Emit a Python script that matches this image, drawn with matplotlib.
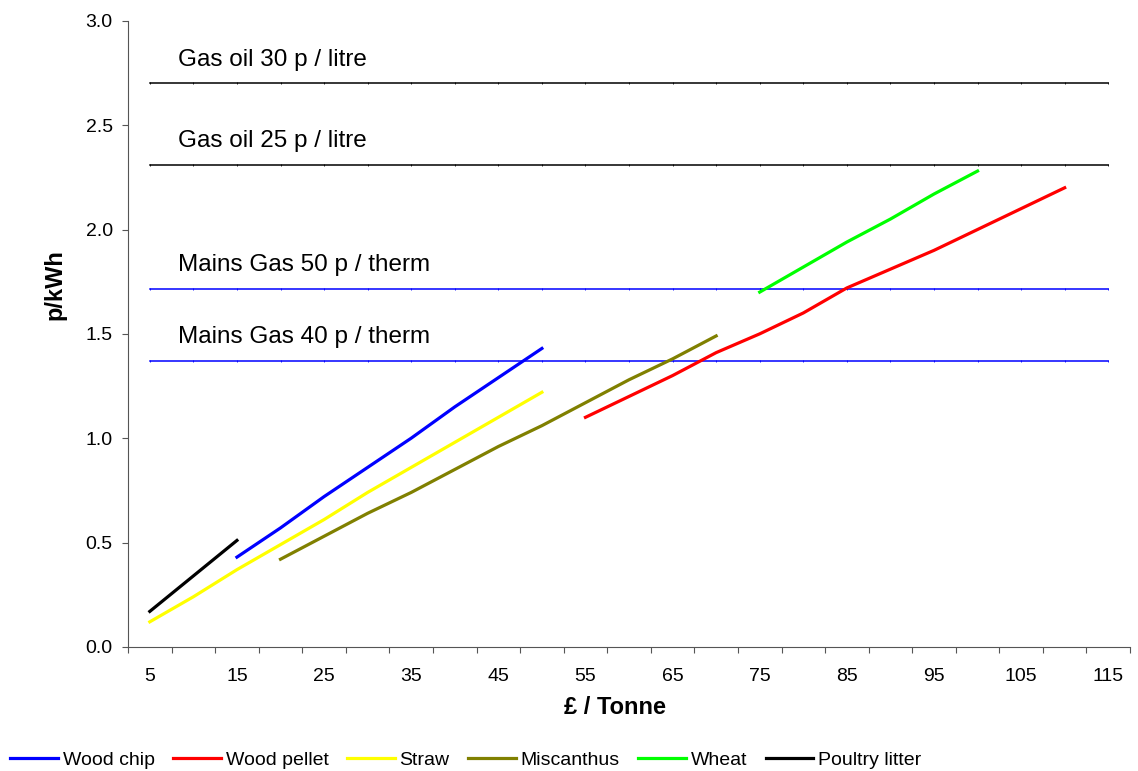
import matplotlib
matplotlib.use("Agg")
import matplotlib.pyplot as plt

plt.rcParams['font.family'] = ['Liberation Sans', 'DejaVu Sans']

# price (GBP / tonne) for each series
x_chip = [15, 20, 25, 30, 35, 40, 45, 50]
y_chip = [0.43, 0.57, 0.72, 0.86, 1.0, 1.15, 1.29, 1.43]

x_pellet = [55, 60, 65, 70, 75, 80, 85, 90, 95, 100, 105, 110]
y_pellet = [1.10, 1.20, 1.30, 1.41, 1.50, 1.60, 1.72, 1.81, 1.90, 2.00, 2.10, 2.20]

x_straw = [5, 10, 15, 20, 25, 30, 35, 40, 45, 50]
y_straw = [0.12, 0.24, 0.37, 0.49, 0.61, 0.74, 0.86, 0.98, 1.10, 1.22]

x_misc = [20, 25, 30, 35, 40, 45, 50, 55, 60, 65, 70]
y_misc = [0.42, 0.53, 0.64, 0.74, 0.85, 0.96, 1.06, 1.17, 1.28, 1.38, 1.49]

x_wheat = [75, 80, 85, 90, 95, 100]
y_wheat = [1.70, 1.82, 1.94, 2.05, 2.17, 2.28]

x_poultry = [5, 10, 15]
y_poultry = [0.17, 0.34, 0.51]

# reference fuel costs
ref_names = ["Gas oil 30 p / litre", "Gas oil 25 p / litre",
             "Mains Gas 50 p / therm", "Mains Gas 40 p / therm"]
ref_values = [2.70, 2.31, 1.715, 1.37]
ref_colors = ["black", "black", "blue", "blue"]

categories = list(range(5, 120, 5))
tick_labels = list(range(5, 120, 10))

fig = plt.figure(figsize=(11.38, 7.71), dpi=100)
ax = fig.add_axes([0.1125, 0.161, 0.8805, 0.812])

for name, val, col in zip(ref_names, ref_values, ref_colors):
    ax.plot(categories, [val] * len(categories), color=col, lw=1.1,
            marker='|', markersize=2, markeredgewidth=0.6)
    ax.text(8.2, val + 0.085, name, fontsize=17.5, va='baseline', ha='left')

ax.plot(x_chip, y_chip, color='#0000ff', lw=2.3, label='Wood chip')
ax.plot(x_pellet, y_pellet, color='#ff0000', lw=2.3, label='Wood pellet')
ax.plot(x_straw, y_straw, color='#ffff00', lw=2.3, label='Straw')
ax.plot(x_misc, y_misc, color='#808000', lw=2.3, label='Miscanthus')
ax.plot(x_wheat, y_wheat, color='#00ff00', lw=2.3, label='Wheat')
ax.plot(x_poultry, y_poultry, color='#000000', lw=2.3, label='Poultry litter')

ax.set_xlim(2.5, 117.5)
ax.set_ylim(0, 3.0)
ax.set_yticks([0, 0.5, 1.0, 1.5, 2.0, 2.5, 3.0])
ax.set_yticklabels(["0.0", "0.5", "1.0", "1.5", "2.0", "2.5", "3.0"], fontsize=14)

# category axis: tick marks between categories, labels on every other category
ax.set_xticks([c - 2.5 for c in categories] + [117.5])
ax.set_xticklabels([])
ax.set_xticks(tick_labels, minor=True)
ax.set_xticklabels([str(t) for t in tick_labels], minor=True, fontsize=14)
ax.tick_params(axis='x', which='minor', length=0, pad=15)
ax.tick_params(axis='both', which='major', length=4, color='#555555', direction='out')
ax.tick_params(axis='y', which='major', pad=7)

for s in ['top', 'right']:
    ax.spines[s].set_visible(False)
for s in ['left', 'bottom']:
    ax.spines[s].set_color('#555555')

ax.set_xlabel("£ / Tonne", fontsize=17, fontweight='bold')
ax.set_ylabel("p/kWh", fontsize=17, fontweight='bold')
ax.xaxis.set_label_coords(0.486, -0.0975)
ax.xaxis.label.set_va('center')
ax.yaxis.set_label_coords(-0.073, 0.578)
ax.yaxis.label.set_va('center')

handles, labels = ax.get_legend_handles_labels()
fig.legend(handles[-6:], labels[-6:], loc='center left', bbox_to_anchor=(0.002, 0.014),
           ncol=6, frameon=False, fontsize=14, handlelength=2.45, handletextpad=0.25,
           columnspacing=0.95, borderaxespad=0.0)

fig.savefig("out.png", dpi=100)
